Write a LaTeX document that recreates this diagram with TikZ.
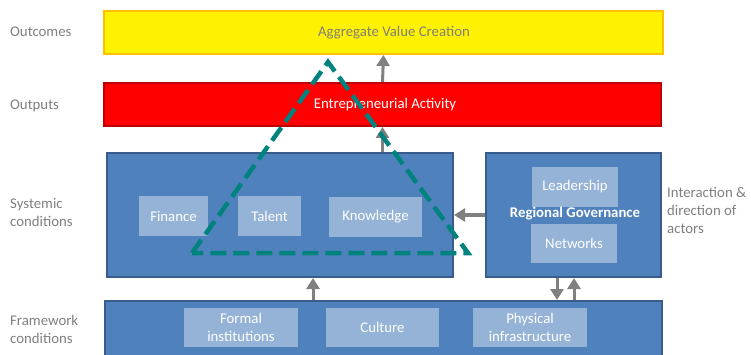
\documentclass[tikz,border=0pt]{standalone}
\usepackage{fontspec}
\setmainfont{Carlito}
\usetikzlibrary{arrows.meta}
\definecolor{boxblue}{HTML}{4F81BD}
\definecolor{boxedge}{HTML}{385D8A}
\definecolor{boxlight}{HTML}{95B3D7}
\definecolor{labgray}{HTML}{7F7F7F}
\definecolor{arrgray}{HTML}{808080}
\definecolor{triteal}{HTML}{00827F}
\definecolor{outedge}{HTML}{FFC000}
\definecolor{redge}{HTML}{C00000}
\begin{document}
\begin{tikzpicture}[x=1pt,y=-1pt,
    every node/.style={font=\fontsize{14.8}{18}\selectfont, inner sep=0pt},
    band/.style={draw=boxedge, line width=2pt, fill=boxblue},
    factor/.style={fill=boxlight, text=white, align=center},
    sidelabel/.style={text=labgray, align=left, anchor=west},
    arr/.style={draw=arrgray, line width=3pt, -{Triangle[width=13pt,length=11pt]}}]
    \useasboundingbox (0,0) rectangle (751,355);
    \node[draw=outedge, line width=2pt, fill=yellow, minimum width=559, minimum height=43, text=labgray] (outc) at (383.5,32.5) {\hspace*{21pt}Aggregate Value Creation};
    \node[draw=redge, line width=2pt, fill=red, minimum width=557, minimum height=43, text=white] (outp) at (382.5,104.5) {\hspace*{5pt}Entrepreneurial Activity};
    \node[band, minimum width=346, minimum height=124] (sys) at (280,215) {};
    \node[band, minimum width=175, minimum height=124] (gov) at (573.5,215) {};
    \node[band, minimum width=557, minimum height=59] (frame) at (383.5,330.5) {};
    \node[factor, minimum width=69, minimum height=40] (fin) at (173.5,216) {Finance};
    \node[factor, minimum width=63, minimum height=40] (tal) at (269.5,216) {Talent};
    \node[factor, minimum width=93, minimum height=40] (know) at (375.5,217) {Knowledge};
    \node[factor, minimum width=86, minimum height=40] (lead) at (575,187) {Leadership};
    \node[factor, minimum width=86, minimum height=39] (net) at (574,243.5) {Networks};
    \node[text=white, font=\fontsize{14.8}{18}\selectfont\bfseries] (govtxt) at (575,214) {Regional Governance};
    \node[factor, minimum width=114, minimum height=39] (formal) at (241,327.5) {Formal\\institutions};
    \node[factor, minimum width=113, minimum height=39] (cult) at (382.5,327.5) {Culture};
    \node[factor, minimum width=114, minimum height=39] (phys) at (530,327.5) {Physical\\infrastructure};
    \node[sidelabel] (louc) at (10,32) {Outcomes};
    \node[sidelabel] (loup) at (10,106) {Outputs};
    \node[sidelabel] (lsys) at (10,212) {Systemic\\conditions};
    \node[sidelabel] (lfra) at (10,329) {Framework\\conditions};
    \node[sidelabel] (lact) at (667,210) {Interaction \&\\direction of\\actors};
    \draw[arr] (outp.north) -- (outc.south);
    \draw[arr] (sys.north -| outp.south) -- (outp.south);
    \draw[arr] ([xshift=33]sys.south |- frame.north) -- ([xshift=33]sys.south);
    \draw[arr] (gov.west) -- (sys.east);
    \draw[arr] ([xshift=-16.5]gov.south) -- ([xshift=-16.5]gov.south |- frame.north);
    \draw[arr] ([xshift=0.5]gov.south |- frame.north) -- ([xshift=0.5]gov.south);
    \coordinate (top) at (328,62);
    \coordinate (bl) at (192,253);
    \coordinate (br) at (468,253);
    \draw[triteal, line width=4.5pt, dash pattern=on 16pt off 7pt] (bl) -- (top) -- (br) -- cycle;
\end{tikzpicture}
\end{document}
